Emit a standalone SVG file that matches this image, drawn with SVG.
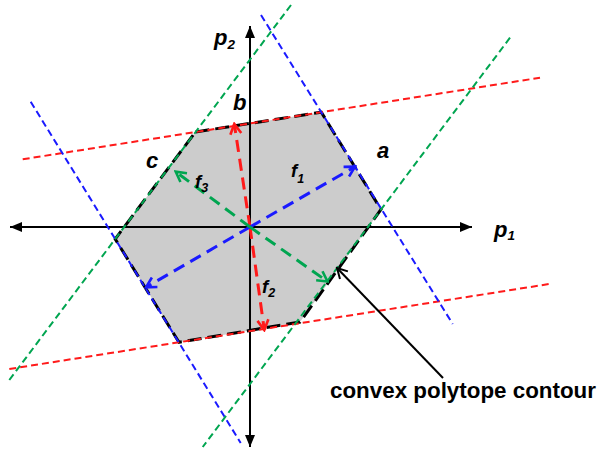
<svg xmlns="http://www.w3.org/2000/svg" width="603" height="452" viewBox="0 0 603 452">
<style>
.lbl{font-family:"Liberation Sans",Arial,sans-serif;font-weight:bold;font-style:italic;fill:#000}
.big{font-size:22px}
.fl{font-size:18.5px}
.sub{font-size:12.5px}
.axis{stroke:#000;stroke-width:2;fill:none}
.cons{stroke-width:2;stroke-dasharray:7 4;fill:none}
.vec{stroke-width:3;stroke-dasharray:12 7;fill:none}
.red{stroke:#ff1a1a}
.blue{stroke:#1a1aff}
.green{stroke:#00a550}
</style>
<defs>
<marker id="ax" viewBox="0 0 12 10" refX="12" refY="5" markerWidth="12" markerHeight="10" markerUnits="userSpaceOnUse" orient="auto">
<path d="M0,0 L12,5 L0,10 z" fill="#000"/>
</marker>
<marker id="mr" viewBox="0 0 14 14" refX="12" refY="7" markerWidth="14" markerHeight="14" markerUnits="userSpaceOnUse" orient="auto">
<path d="M2,1.5 L12,7 L2,12.5" fill="none" stroke="#ff1a1a" stroke-width="2.6"/>
</marker>
<marker id="mb" viewBox="0 0 14 14" refX="12" refY="7" markerWidth="14" markerHeight="14" markerUnits="userSpaceOnUse" orient="auto">
<path d="M2,1.5 L12,7 L2,12.5" fill="none" stroke="#1a1aff" stroke-width="2.6"/>
</marker>
<marker id="mg" viewBox="0 0 14 14" refX="12" refY="7" markerWidth="14" markerHeight="14" markerUnits="userSpaceOnUse" orient="auto">
<path d="M2,1.5 L12,7 L2,12.5" fill="none" stroke="#00a550" stroke-width="2.6"/>
</marker>
<marker id="mk" viewBox="0 0 14 14" refX="12" refY="7" markerWidth="14" markerHeight="14" markerUnits="userSpaceOnUse" orient="auto">
<path d="M2,1.5 L12,7 L2,12.5" fill="none" stroke="#000" stroke-width="2"/>
</marker>
</defs>

<g id="polytope">
<polygon points="195.5,132 321.3,112.2 381,209.5 300,322 179,342.3 115.2,239" fill="#cccccc" stroke="none"/>
</g>

<g id="axes">
<line class="axis" x1="250" y1="227" x2="472" y2="227" marker-end="url(#ax)"/>
<line class="axis" x1="250" y1="227" x2="10" y2="227" marker-end="url(#ax)"/>
<line class="axis" x1="250" y1="227" x2="250" y2="26" marker-end="url(#ax)"/>
<line class="axis" x1="250" y1="227" x2="250" y2="447" marker-end="url(#ax)"/>
</g>

<g id="contour">
<polygon points="195.5,132 321.3,112.2 381,209.5 300,322 179,342.3 115.2,239" fill="none" stroke="#000" stroke-width="3" stroke-dasharray="14 6"/>
</g>

<g id="constraint-lines">
<line class="cons red" x1="22.7" y1="159.3" x2="540" y2="77.7"/>
<line class="cons red" x1="9.3" y1="369" x2="549.3" y2="284"/>
<line class="cons blue" x1="30.7" y1="101.7" x2="240.7" y2="443"/>
<line class="cons blue" x1="261" y1="15" x2="452.7" y2="324"/>
<line class="cons green" x1="291" y1="5" x2="9.3" y2="380"/>
<line class="cons green" x1="510" y1="37.7" x2="202.7" y2="447"/>
</g>

<g id="vectors">
<line class="vec red" x1="250" y1="227" x2="234.3" y2="124" marker-end="url(#mr)"/>
<line class="vec red" x1="250" y1="227" x2="264.3" y2="330" marker-end="url(#mr)"/>
<line class="vec blue" x1="250" y1="227" x2="355" y2="166.7" marker-end="url(#mb)"/>
<line class="vec blue" x1="250" y1="227" x2="146" y2="287.3" marker-end="url(#mb)"/>
<line class="vec green" x1="250" y1="227" x2="175.7" y2="171.7" marker-end="url(#mg)"/>
<line class="vec green" x1="250" y1="227" x2="327.5" y2="281.5" marker-end="url(#mg)"/>
</g>

<g id="connectors">
<line x1="443" y1="378" x2="337" y2="268" stroke="#000" stroke-width="2" marker-end="url(#mk)"/>
</g>

<g id="labels">
<text class="lbl big" x="214" y="45">p<tspan font-size="13.5" dy="3.5">2</tspan></text>
<text class="lbl big" x="494" y="236.5">p<tspan font-size="13.5" dy="3.5">1</tspan></text>
<text class="lbl big" x="377" y="158">a</text>
<text class="lbl big" x="233" y="110">b</text>
<text class="lbl big" x="146" y="168">c</text>
<text class="lbl fl" x="291" y="177">f<tspan class="sub" dy="5.5">1</tspan></text>
<text class="lbl fl" x="262" y="293">f<tspan class="sub" dy="4">2</tspan></text>
<text class="lbl fl" x="195" y="188">f<tspan class="sub" dy="4">3</tspan></text>
<text x="330" y="398" font-family="'Liberation Sans',Arial,sans-serif" font-weight="bold" font-size="22.3" textLength="266" lengthAdjust="spacingAndGlyphs">convex polytope contour</text>
</g>
</svg>
